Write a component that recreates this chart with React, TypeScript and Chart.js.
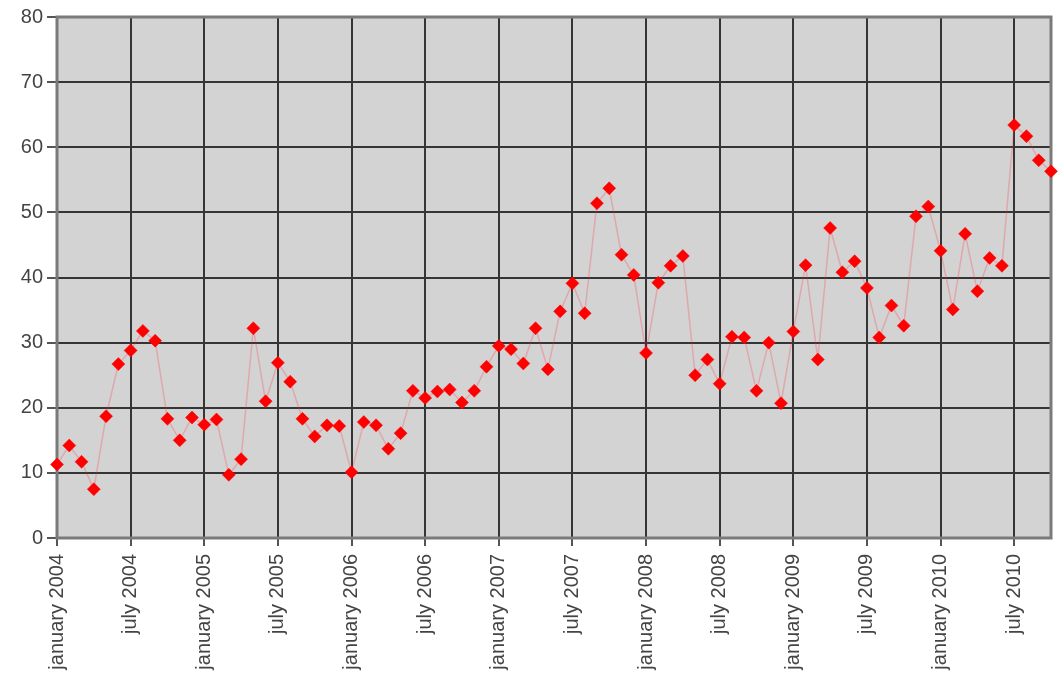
import React, { useEffect, useRef } from "react";
import { Chart, registerables } from "chart.js";

Chart.register(...registerables);

// Monthly values, January 2004 .. October 2010
const values2004 = [11.3, 14.2, 11.7, 7.5, 18.7, 26.7, 28.8, 31.8, 30.3, 18.3, 15.0, 18.5];
const values2005 = [17.4, 18.2, 9.7, 12.1, 32.2, 21.0, 26.9, 24.0, 18.3, 15.6, 17.3, 17.2];
const values2006 = [10.1, 17.8, 17.3, 13.7, 16.1, 22.6, 21.5, 22.5, 22.8, 20.8, 22.6, 26.3];
const values2007 = [29.5, 29.0, 26.8, 32.2, 25.9, 34.8, 39.1, 34.5, 51.4, 53.7, 43.5, 40.4];
const values2008 = [28.4, 39.2, 41.8, 43.3, 25.0, 27.4, 23.7, 30.9, 30.8, 22.6, 30.0, 20.7];
const values2009 = [31.7, 41.9, 27.4, 47.6, 40.8, 42.5, 38.4, 30.8, 35.7, 32.6, 49.4, 50.9];
const values2010 = [44.1, 35.1, 46.7, 37.9, 43.0, 41.8, 63.4, 61.7, 58.0, 56.3];

const tickLabels = [
  "january 2004", "july 2004",
  "january 2005", "july 2005",
  "january 2006", "july 2006",
  "january 2007", "july 2007",
  "january 2008", "july 2008",
  "january 2009", "july 2009",
  "january 2010", "july 2010",
];

const allValues = [
  ...values2004, ...values2005, ...values2006, ...values2007,
  ...values2008, ...values2009, ...values2010,
];

const FONT = "'Liberation Sans', Arial, sans-serif";

const plotBg = {
  id: "plotBg",
  beforeDraw(chart: any) {
    const { ctx, chartArea } = chart;
    ctx.save();
    ctx.fillStyle = "#d3d3d3";
    ctx.fillRect(chartArea.left, chartArea.top, chartArea.right - chartArea.left, chartArea.bottom - chartArea.top);
    ctx.restore();
  },
  beforeDatasetsDraw(chart: any) {
    const { ctx, chartArea } = chart;
    ctx.save();
    ctx.strokeStyle = "#7a7a7a";
    ctx.lineWidth = 3;
    ctx.strokeRect(chartArea.left, chartArea.top, chartArea.right - chartArea.left, chartArea.bottom - chartArea.top);
    ctx.restore();
  },
};

export default function App() {
  const ref = useRef<HTMLCanvasElement | null>(null);

  useEffect(() => {
    document.body.style.margin = "0";
    const canvas = ref.current;
    if (!canvas) return;
    const data = allValues.map((v, i) => ({ x: i, y: v }));
    const chart = new Chart(canvas, {
      type: "line",
      data: {
        datasets: [
          {
            data,
            borderColor: "rgba(255,40,60,0.25)",
            borderWidth: 1.5,
            pointStyle: "rectRot",
            pointRadius: 6.5,
            pointBackgroundColor: "#ff0000",
            pointBorderColor: "#ff0000",
            pointBorderWidth: 0.5,
            clip: false,
            tension: 0,
          } as any,
        ],
      },
      options: {
        animation: false,
        responsive: false,
        maintainAspectRatio: false,
        layout: { padding: { top: 17, right: 10, left: 0, bottom: 0 } },
        plugins: { legend: { display: false }, tooltip: { enabled: false } },
        scales: {
          x: {
            type: "linear",
            min: 0,
            max: allValues.length - 1,
            border: { display: false },
            grid: { color: "#353535", lineWidth: 2, tickLength: 8, tickColor: "#555" },
            ticks: {
              stepSize: 6,
              includeBounds: false,
              autoSkip: false,
              maxRotation: 90,
              minRotation: 90,
              padding: 8,
              color: "#444",
              font: { family: FONT, size: 20 },
              callback: (v: any) => {
                const idx = Math.round(Number(v) / 6);
                return Number(v) % 6 === 0 ? tickLabels[idx] ?? "" : "";
              },
            },
            afterFit: (s: any) => {
              s.height = 136;
            },
          },
          y: {
            min: 0,
            max: 80,
            border: { display: false },
            grid: { color: "#353535", lineWidth: 2, tickLength: 10, tickColor: "#555" },
            ticks: {
              stepSize: 10,
              padding: 4,
              color: "#444",
              font: { family: FONT, size: 20 },
            },
            afterFit: (s: any) => {
              s.width = 57;
            },
          },
        },
      },
      plugins: [plotBg],
    });
    return () => chart.destroy();
  }, []);

  return (
    <div style={{ width: 1061, height: 674 }}>
      <canvas ref={ref} width={1061} height={674} style={{ display: "block" }} />
    </div>
  );
}
